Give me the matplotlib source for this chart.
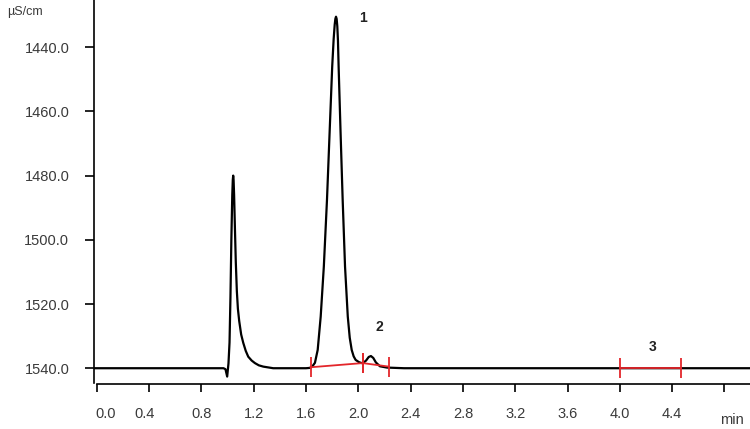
import numpy as np
import matplotlib.pyplot as plt
import matplotlib.transforms as mtransforms

plt.rcParams['font.family'] = ['Liberation Sans', 'DejaVu Sans']

# chromatogram trace (time in min, conductivity in uS/cm)
time = [-0.02, 0.97, 0.985, 0.998, 1.008, 1.016, 1.023, 1.030, 1.037, 1.041,
        1.044, 1.047, 1.051, 1.057, 1.064, 1.072, 1.080, 1.090, 1.105, 1.121,
        1.140, 1.159, 1.185, 1.210, 1.240, 1.274, 1.350, 1.600, 1.630, 1.648,
        1.669, 1.690, 1.713, 1.737, 1.761, 1.781, 1.801, 1.812, 1.820, 1.825,
        1.830, 1.835, 1.840, 1.845, 1.850, 1.865, 1.881, 1.899, 1.920, 1.935,
        1.950, 1.965, 1.980, 2.005, 2.026, 2.040, 2.060, 2.080, 2.097, 2.115,
        2.135, 2.166, 2.220, 2.350, 5.10]
signal = [1540.0, 1540.0, 1540.3, 1542.6, 1538.5, 1532.0, 1518.0, 1500.0, 1486.0, 1481.3,
          1480.0, 1481.3, 1486.0, 1496.0, 1507.0, 1516.0, 1521.5, 1525.3, 1529.5, 1532.1,
          1534.6, 1536.4, 1537.6, 1538.4, 1539.1, 1539.5, 1540.0, 1540.0, 1539.9, 1539.5,
          1538.3, 1534.3, 1523.9, 1508.3, 1487.6, 1466.7, 1446.0, 1437.5, 1433.0, 1431.2,
          1430.5, 1431.2, 1433.5, 1438.0, 1446.0, 1466.7, 1487.6, 1508.3, 1523.9, 1530.5,
          1534.3, 1536.3, 1537.4, 1538.1, 1538.4, 1538.3, 1537.6, 1536.5, 1536.2, 1536.8,
          1538.2, 1539.4, 1539.8, 1540.0, 1540.0]

# integration baselines (red)
int_x = [[1.636, 2.034], [2.034, 2.235], [4.0, 4.47]]
int_y = [[1539.7, 1538.4], [1538.4, 1539.5], [1540.0, 1540.0]]

# peak labels
peak_names = ['1', '2', '3']
peak_x = [2.036, 2.158, 4.251]
peak_y = [1430.9, 1527.1, 1533.4]

xticks = [0.0, 0.4, 0.8, 1.2, 1.6, 2.0, 2.4, 2.8, 3.2, 3.6, 4.0, 4.4, 4.8]
xlabels = ['0.0', '0.4', '0.8', '1.2', '1.6', '2.0', '2.4', '2.8', '3.2', '3.6', '4.0', '4.4', '']
yticks = [1440, 1460, 1480, 1500, 1520, 1540]

fig = plt.figure(figsize=(7.5, 4.29), dpi=100)
ax = fig.add_axes([0.1257, 0.108, 0.8743, 0.892])

ax.plot(time, signal, color='black', lw=1.6, solid_joinstyle='round')
red = '#e3262b'
for xs, ys in zip(int_x, int_y):
    ax.plot(xs, ys, color=red, lw=1.3, marker='|', markersize=15, markeredgewidth=1.3)

for name, px, py in zip(peak_names, peak_x, peak_y):
    ax.text(px, py, name, ha='center', va='center', fontsize=10, fontweight='bold', color='#222222')

ax.set_xlim(-0.018, 4.995)
ax.set_ylim(1544.5, 1425.3)

ax.set_xticks(xticks)
ax.set_xticklabels(xlabels)
ax.set_yticks(yticks)
ax.set_yticklabels(['%.1f' % v for v in yticks])

for s in ['top', 'right']:
    ax.spines[s].set_visible(False)
ax.spines['bottom'].set_position(('outward', 1.2))
ax.spines['bottom'].set_bounds(0, 4.995)
for s in ['left', 'bottom']:
    ax.spines[s].set_linewidth(1.2)

ax.tick_params(axis='y', length=6.5, width=1.2, pad=11.5, labelsize=10.5, labelcolor='#3a3a3a')
ax.tick_params(axis='x', length=5.8, width=1.2, pad=10.5, labelsize=10.5, labelcolor='#3a3a3a')

# first labels sit a little off their ticks in the original
labs = ax.get_xticklabels()
labs[0].set_transform(labs[0].get_transform() + mtransforms.ScaledTranslation(9 / 100, 0, fig.dpi_scale_trans))
labs[1].set_transform(labs[1].get_transform() + mtransforms.ScaledTranslation(-4 / 100, 0, fig.dpi_scale_trans))

fig.text(7 / 750, 1 - 12.5 / 429, 'µS/cm', ha='left', va='center', fontsize=9, color='#3a3a3a')
fig.text(732 / 750, 1 - 420 / 429, 'min', ha='center', va='center', fontsize=10.5, color='#3a3a3a')

fig.savefig('out.png', dpi=100)
